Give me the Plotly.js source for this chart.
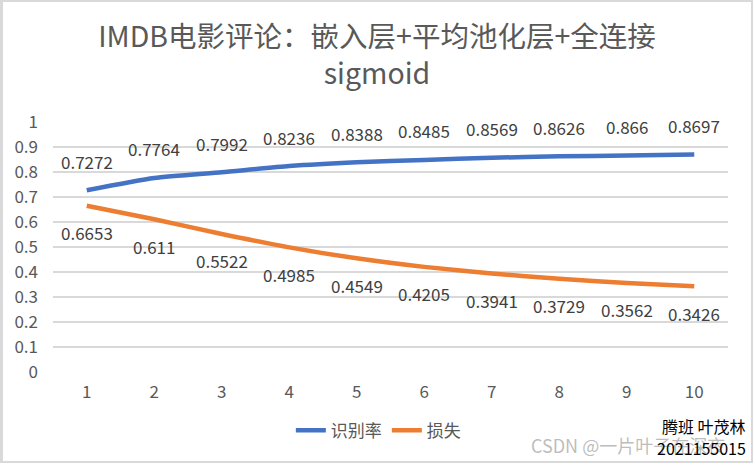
<!DOCTYPE html>
<html>
<head>
<meta charset="utf-8">
<script src="https://cdn.plot.ly/plotly-3.0.1.min.js"></script>
<style>
html,body{margin:0;padding:0;background:#fff;}
#wrap{width:753px;height:463px;box-sizing:border-box;border:2px solid #d9d9d9;border-left-width:3px;background:#fff;overflow:hidden;}
#chart{width:748px;height:459px;}
</style>
</head>
<body>
<div id="wrap"><div id="chart"></div></div>
<script>
const categories = [1,2,3,4,5,6,7,8,9,10];
const accuracy = [0.7272,0.7764,0.7992,0.8236,0.8388,0.8485,0.8569,0.8626,0.866,0.8697];
const loss = [0.6653,0.611,0.5522,0.4985,0.4549,0.4205,0.3941,0.3729,0.3562,0.3426];
const seriesNames = ['识别率','损失'];
const yTicks = [0,0.1,0.2,0.3,0.4,0.5,0.6,0.7,0.8,0.9,1];
const yTickText = ['0','0.1','0.2','0.3','0.4','0.5','0.6','0.7','0.8','0.9','1'];

const FONT = '"Noto Sans CJK SC", "Noto Sans", sans-serif';

const traces = [
  {x: categories, y: accuracy, name: seriesNames[0], type: 'scatter', mode: 'lines',
   line: {color: '#4472C4', width: 4.5, shape: 'spline', smoothing: 0.6}},
  {x: categories, y: loss, name: seriesNames[1], type: 'scatter', mode: 'lines',
   line: {color: '#ED7D31', width: 4.5, shape: 'spline', smoothing: 0.6}}
];

const annotations = [];
categories.forEach((c, i) => {
  annotations.push({x: c, y: accuracy[i], xref: 'x', yref: 'y', text: String(accuracy[i]),
    showarrow: false, yshift: 29, font: {family: FONT, size: 17, color: '#404040'}});
  annotations.push({x: c, y: loss[i], xref: 'x', yref: 'y', text: String(loss[i]),
    showarrow: false, yshift: -27, font: {family: FONT, size: 17, color: '#404040'}});
});
annotations.push({xref: 'paper', yref: 'paper', x: 0.705, y: -0.29, xanchor: 'left', yanchor: 'middle',
  text: 'CSDN @一片叶子在深夜', showarrow: false, font: {family: FONT, size: 18, color: 'rgba(160,160,160,0.7)'}});
annotations.push({xref: 'paper', yref: 'paper', x: 1.03, y: -0.215, xanchor: 'right', yanchor: 'middle',
  text: '腾班 叶茂林', showarrow: false, font: {family: FONT, size: 16, color: '#000000'}});
annotations.push({xref: 'paper', yref: 'paper', x: 1.03, y: -0.305, xanchor: 'right', yanchor: 'middle',
  text: '2021155015', showarrow: false, font: {family: FONT, size: 16, color: '#000000'}});

const layout = {
  width: 748, height: 459,
  margin: {l: 50, r: 23, t: 120, b: 87, pad: 0},
  paper_bgcolor: '#ffffff', plot_bgcolor: '#ffffff',
  font: {family: FONT, color: '#595959'},
  title: {text: 'IMDB电影评论：嵌入层+平均池化层+全连接<br>sigmoid',
    font: {family: FONT, size: 28.5, color: '#595959'},
    x: 0.5, xanchor: 'center', y: 0.902, yanchor: 'top', yref: 'container'},
  xaxis: {range: [0.5, 10.5], tickvals: categories, ticktext: categories.map(String),
    showgrid: false, zeroline: false,
    showline: false, ticks: '', tickfont: {family: FONT, size: 17, color: '#595959'},
    ticklabelstandoff: 8, fixedrange: true},
  yaxis: {range: [0, 1], tickvals: yTicks, ticktext: yTickText, showgrid: true,
    gridcolor: '#d9d9d9', gridwidth: 1.5, zeroline: false, showline: false, ticks: '',
    tickfont: {family: FONT, size: 17, color: '#595959'}, ticklabelstandoff: 14, fixedrange: true},
  showlegend: true,
  legend: {orientation: 'h', x: 0.482, xanchor: 'center', y: -0.235, yanchor: 'middle',
    font: {family: FONT, size: 17, color: '#595959'}, bgcolor: 'rgba(0,0,0,0)'},
  annotations: annotations
};

Plotly.newPlot('chart', traces, layout, {displayModeBar: false, staticPlot: true});
</script>
</body>
</html>
